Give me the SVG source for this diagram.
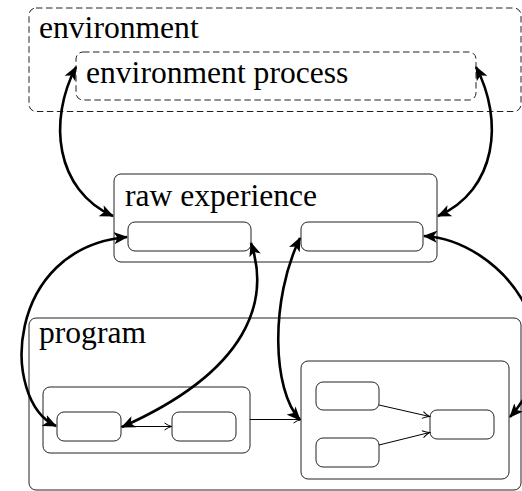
<svg xmlns="http://www.w3.org/2000/svg" width="522" height="491" viewBox="0 0 522 491">
<defs>
<style>
.box{fill:none;stroke:#222;stroke-width:1}
.dash{fill:none;stroke:#222;stroke-width:1;stroke-dasharray:6.5 3.5}
.lbl{font-family:"Liberation Serif","Times New Roman",serif;font-size:31.6px;fill:#000}
.thick{fill:none;stroke:#000;stroke-width:2.6;marker-start:url(#big);marker-end:url(#big)}
.thin{fill:none;stroke:#000;stroke-width:1;marker-end:url(#small)}
</style>
<marker id="big" viewBox="0 0 15 13" markerWidth="15" markerHeight="13" refX="13" refY="6.5" orient="auto-start-reverse" markerUnits="userSpaceOnUse">
<path d="M14,6.5 L0,0.5 L3.5,6.5 L0,12.5 z" fill="#000"/>
</marker>
<marker id="small" viewBox="0 0 10 10" markerWidth="10" markerHeight="10" refX="8" refY="5" orient="auto" markerUnits="userSpaceOnUse">
<path d="M1,1.5 Q5,4.2 8,5 Q5,5.8 1,8.5" fill="none" stroke="#000" stroke-width="1"/>
</marker>
</defs>
<g id="environment">
<rect class="dash" x="29" y="8" width="492" height="103.5" rx="7"/>
<text class="lbl" x="39" y="38">environment</text>
</g>
<g id="environment-process">
<rect class="dash" x="76" y="52" width="400" height="48" rx="7"/>
<text class="lbl" x="86" y="83">environment process</text>
</g>
<g id="raw-experience">
<rect class="box" x="114" y="174" width="323" height="88" rx="7"/>
<text class="lbl" x="125" y="206">raw experience</text>
</g>
<g id="raw-slot-left"><rect class="box" x="128" y="222" width="123" height="29" rx="7"/></g>
<g id="raw-slot-right"><rect class="box" x="301" y="222" width="122" height="29" rx="7"/></g>
<g id="program">
<rect class="box" x="29" y="318" width="492" height="172" rx="7"/>
<text class="lbl" x="39" y="343">program</text>
</g>
<g id="left-group"><rect class="box" x="43" y="387" width="207" height="66" rx="7"/></g>
<g id="node-a"><rect class="box" x="57" y="412" width="64" height="29" rx="7"/></g>
<g id="node-b"><rect class="box" x="172" y="412" width="64" height="29" rx="7"/></g>
<g id="right-group"><rect class="box" x="301" y="361" width="208" height="118" rx="7"/></g>
<g id="node-c"><rect class="box" x="316" y="382" width="63" height="28" rx="7"/></g>
<g id="node-d"><rect class="box" x="316" y="438" width="63" height="29" rx="7"/></g>
<g id="node-e"><rect class="box" x="430" y="410" width="64" height="29" rx="7"/></g>
<g id="connectors">
<path class="thin" d="M121,426.5 L171.5,426.5"/>
<path class="thin" d="M250,419.5 L300.5,419.5"/>
<path class="thin" d="M379,405 L429.5,416.5"/>
<path class="thin" d="M379,445 L429.5,432.5"/>
<path class="thick" d="M76,67 C48,120 55,190 113,216"/>
<path class="thick" d="M476,67 C504,120 497,190 438,216"/>
<path class="thick" d="M127,237 C5,248 0,400 56,426"/>
<path class="thick" d="M251,243 C270,300 250,370 122,427"/>
<path class="thick" d="M300,238 C270,300 272,390 300,420"/>
<path class="thick" d="M424,236 C500,240 580,340 510,417"/>
</g>
</svg>
